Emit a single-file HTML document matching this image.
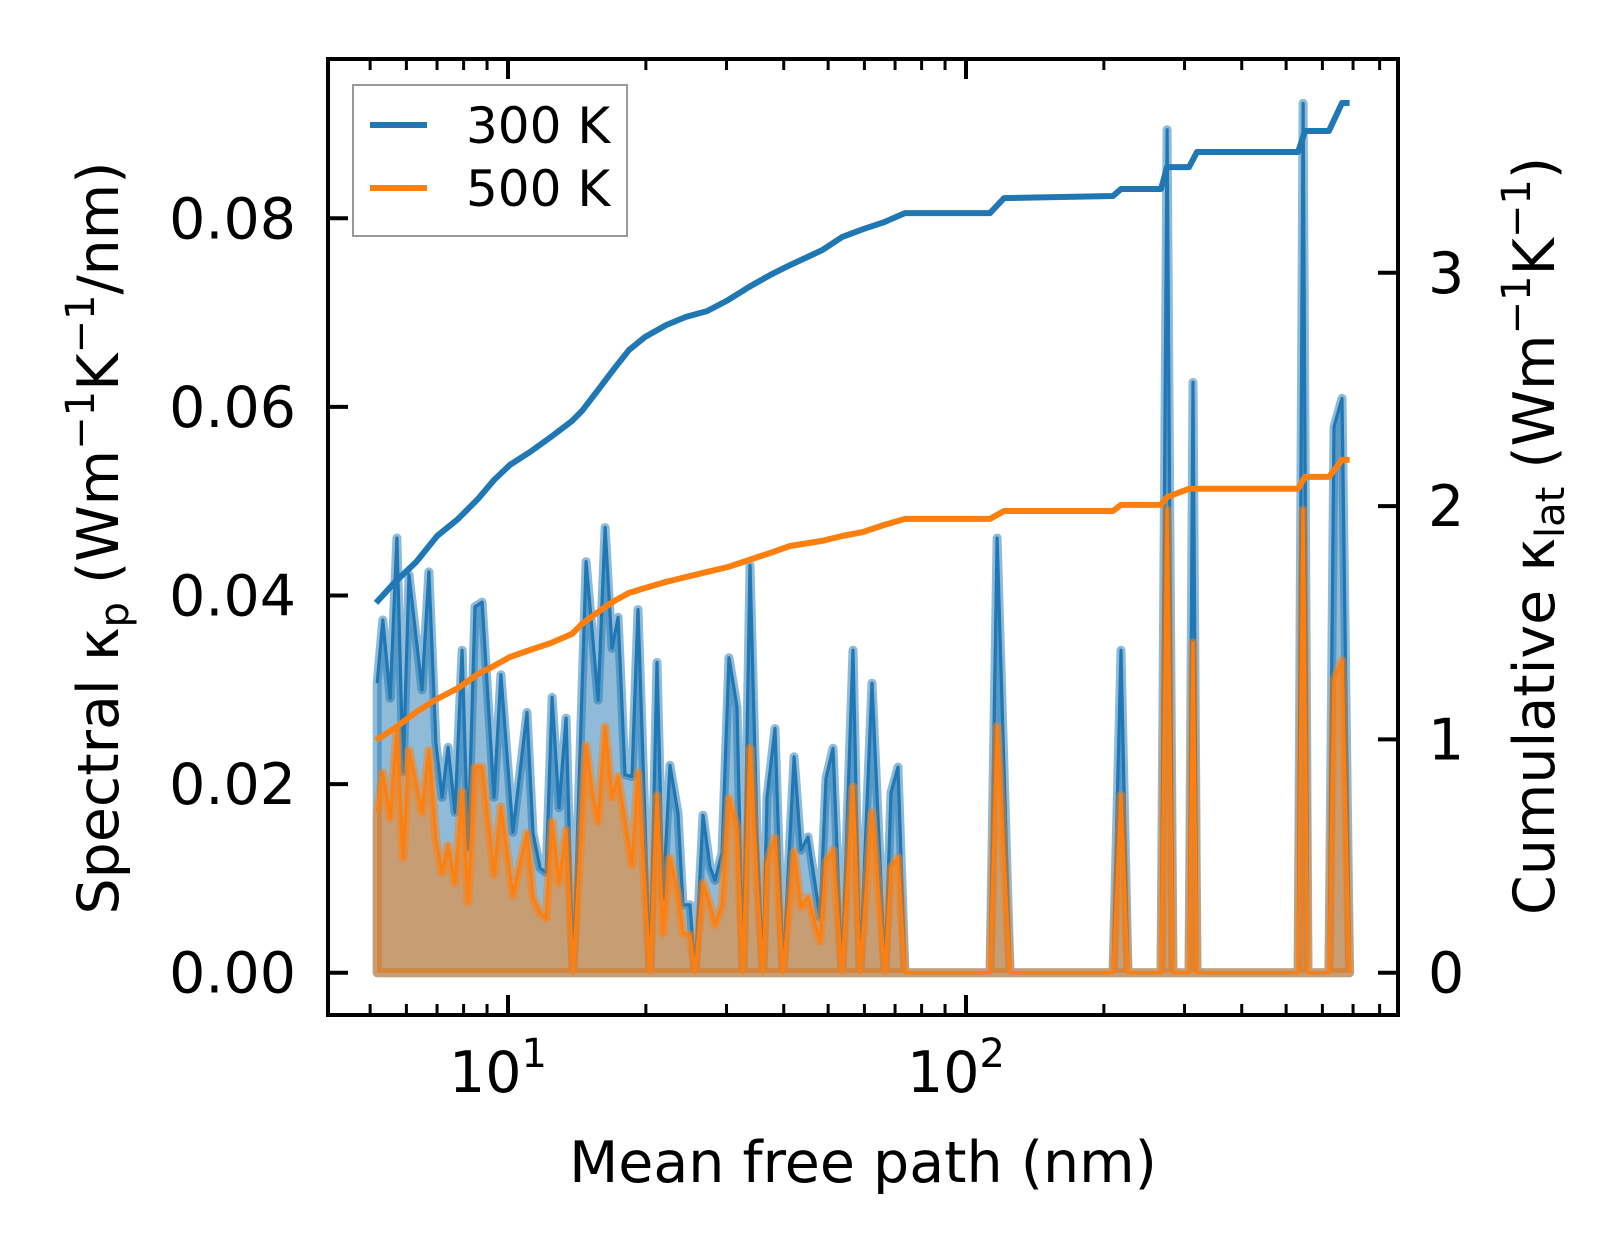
<!DOCTYPE html>
<html><head><meta charset="utf-8"><style>
html,body{margin:0;padding:0;background:#fff}
svg{display:block;font-family:"DejaVu Sans","Liberation Sans",sans-serif}
</style></head><body>
<svg id="chart" width="1623" height="1254" viewBox="0 0 1623 1254" xmlns="http://www.w3.org/2000/svg">
<rect width="1623" height="1254" fill="#fff"/>
<g id="plot"></g>
<g id="axes"></g>
</svg>
<script>
// Spectral data (shared mean free path grid, nm)
const specMfp = [5.18,5.33,5.53,5.72,5.90,6.08,6.49,6.72,6.96,7.18,7.40,7.66,7.94,8.18,8.47,8.78,9.32,9.65,10.25,11.00,11.34,11.75,12.11,12.48,12.92,13.39,13.87,14.81,15.26,15.73,16.29,16.87,17.39,18.01,18.65,19.22,20.42,21.15,21.80,22.58,23.51,24.11,24.97,25.61,26.66,27.61,28.31,29.32,30.37,31.62,32.59,33.76,34.97,36.04,36.77,38.28,39.85,42.13,43.62,45.19,47.99,49.46,51.24,53.62,56.67,58.70,62.34,66.54,68.58,71.04,73.58,112.8,116.9,124.8,209.4,218.0,225.8,266.6,274.8,283.1,306.9,313.1,319.5,530.9,544.4,558.2,620.0,636.0,662.0,688.0];
const spec300 = [0.0307,0.0374,0.0291,0.0461,0.0213,0.0422,0.0300,0.0425,0.0244,0.0186,0.0239,0.0170,0.0342,0.0132,0.0388,0.0393,0.0186,0.0316,0.0149,0.0276,0.0148,0.0111,0.0106,0.0292,0.0175,0.0270,0,0.0436,0.0363,0.0289,0.0472,0.0344,0.0377,0.0210,0.0208,0.0385,0,0.0329,0.0079,0.0220,0.0169,0.0072,0.0072,0,0.0167,0.0112,0.0098,0.0127,0.0334,0.0282,0,0.0432,0.0148,0,0.0186,0.0259,0,0.0229,0.0130,0.0144,0.0059,0.0206,0.0238,0,0.0342,0,0.0307,0,0.0191,0.0218,0,0,0.0461,0,0,0.0342,0,0,0.0894,0,0,0.0626,0,0,0.0922,0,0,0.0579,0.0609,0];
const spec500 = [0.0170,0.0212,0.0164,0.0257,0.0122,0.0236,0.0170,0.0236,0.0141,0.0106,0.0135,0.0095,0.0192,0.0075,0.0218,0.0218,0.0104,0.0176,0.0082,0.0148,0.0080,0.0063,0.0058,0.0160,0.0095,0.0151,0,0.0241,0.0192,0.0160,0.0261,0.0186,0.0208,0.0160,0.0114,0.0212,0,0.0188,0.0042,0.0122,0.0082,0.0042,0.0040,0,0.0095,0.0072,0.0051,0.0072,0.0185,0.0153,0,0.0238,0.0095,0,0.0116,0.0143,0,0.0128,0.0070,0.0080,0.0033,0.0117,0.0130,0,0.0197,0,0.0170,0,0.0111,0.0122,0,0,0.0261,0,0,0.0188,0,0,0.0491,0,0,0.0350,0,0,0.0491,0,0,0.0310,0.0331,0];
// Cumulative data
const cumMfp = [5.15,5.67,6.30,7.00,7.78,8.60,9.32,10.10,11.17,12.41,13.80,14.51,15.73,17.04,18.37,19.91,22.13,24.47,27.20,30.22,33.59,37.33,41.28,48.49,53.62,59.59,66.22,73.59,112.8,121.1,209.4,218.0,266.6,274.8,306.9,319.5,530.9,549.8,620.0,662.0,688.0];
const cum300 = [1.585,1.675,1.760,1.872,1.945,2.031,2.112,2.177,2.232,2.296,2.365,2.408,2.498,2.588,2.669,2.725,2.776,2.811,2.836,2.883,2.939,2.990,3.033,3.097,3.153,3.187,3.217,3.256,3.256,3.320,3.329,3.359,3.359,3.453,3.453,3.518,3.518,3.608,3.608,3.728,3.728];
const cum500 = [0.997,1.049,1.117,1.173,1.220,1.280,1.315,1.353,1.383,1.413,1.452,1.495,1.546,1.593,1.628,1.649,1.675,1.696,1.718,1.739,1.769,1.799,1.829,1.851,1.872,1.889,1.919,1.945,1.945,1.979,1.979,2.005,2.005,2.039,2.074,2.074,2.074,2.125,2.125,2.198,2.198];
const leftTicks = [0, 0.02, 0.04, 0.06, 0.08];
const leftTickLabels = ["0.00","0.02","0.04","0.06","0.08"];
const rightTicks = [0, 1, 2, 3];
const rightTickLabels = ["0","1","2","3"];
const xMajor = [10, 100];
const xMajorExp = ["1","2"];
const xMinor = [5,6,7,8,9,20,30,40,50,60,70,80,90,200,300,400,500,600,700,800];

const L=328, R=1398, T=59, B=1015;
const NS="http://www.w3.org/2000/svg";
function xs(v){return 508 + (Math.log10(v)-1)*458;}
function yl(v){return 972.7 - v/0.02*188.6;}
function yr(v){return 972.7 - v*233.3;}
function mk(tag, attrs, parent){const e=document.createElementNS(NS,tag);for(const k in attrs)e.setAttribute(k,attrs[k]);parent.appendChild(e);return e;}
const plot=document.getElementById('plot'), axes=document.getElementById('axes');

function drawSpec(vals, color, name){
  let pts=specMfp.map((m,i)=>xs(m).toFixed(1)+','+yl(vals[i]).toFixed(1));
  const first=xs(specMfp[0]).toFixed(1), last=xs(specMfp[specMfp.length-1]).toFixed(1), z=yl(0).toFixed(1);
  const poly=mk('polygon',{points:first+','+z+' '+pts.join(' ')+' '+last+','+z,fill:color,'fill-opacity':0.5,stroke:color,'stroke-opacity':0.5,'stroke-width':9,'stroke-linejoin':'round'},plot);
  
  
  const line=mk('polyline',{points:pts.join(' '),fill:'none',stroke:color,'stroke-width':3.2,'stroke-linejoin':'round'},plot);
  
  
}
drawSpec(spec300,'#1f77b4','spectral-300k');
drawSpec(spec500,'#ff7f0e','spectral-500k');

function drawCum(vals,color,name){
  const pts=cumMfp.map((m,i)=>xs(m).toFixed(1)+','+yr(vals[i]).toFixed(1)).join(' ');
  const pl=mk('polyline',{points:pts,fill:'none',stroke:color,'stroke-width':6,'stroke-linejoin':'round'},plot);
  
  
}
drawCum(cum300,'#1f77b4','cumulative-300k');
drawCum(cum500,'#ff7f0e','cumulative-500k');

// spines
const frame=mk('rect',{x:L,y:T,width:R-L,height:B-T,fill:'none',stroke:'#000','stroke-width':4},axes);



function tickLine(x1,y1,x2,y2,w,name){const t=mk('line',{x1,y1,x2,y2,stroke:'#000','stroke-width':w},axes);
  
  }
function txt(s,x,y,size,anchor,name){const t=mk('text',{x,y,'font-size':size,'text-anchor':anchor,fill:'#000'},axes);t.textContent=s;
  
  return t;}

leftTicks.forEach((v,i)=>{const y=yl(v);tickLine(L,y,L+20,y,4,'left-tick');
  txt(leftTickLabels[i],296,y+20,57,'end','left-tick-label');});
rightTicks.forEach((v,i)=>{const y=yr(v);tickLine(R-20,y,R,y,4,'right-tick');
  txt(rightTickLabels[i],1428,y+20,57,'start','right-tick-label');});
xMajor.forEach((v,i)=>{const x=xs(v);tickLine(x,B,x,B-20,4,'x-major-tick');tickLine(x,T,x,T+20,4,'x-major-tick-top');
  const t=txt('10',x-10,1092,57,'middle','x-tick-label');
  const s=document.createElementNS(NS,'tspan');s.setAttribute('font-size','40');s.setAttribute('dy','-25');s.textContent=xMajorExp[i];t.appendChild(s);});
xMinor.forEach(v=>{const x=xs(v);if(x<L||x>R)return;tickLine(x,B,x,B-11,3,'x-minor-tick');tickLine(x,T,x,T+11,3,'x-minor-tick-top');});
</script>
<svg style="position:absolute;left:0;top:0" width="1623" height="1254" viewBox="0 0 1623 1254" font-family="DejaVu Sans, Liberation Sans, sans-serif">
<text x="863" y="1182" font-size="57" text-anchor="middle">Mean free path (nm)</text>
<text transform="translate(118,538) rotate(-90)" font-size="57" text-anchor="middle">Spectral κ<tspan font-size="40" dy="10">p</tspan><tspan dy="-10"> (Wm</tspan><tspan font-size="40" dy="-24">−1</tspan><tspan dy="24">K</tspan><tspan font-size="40" dy="-24">−1</tspan><tspan dy="24">/nm)</tspan></text>
<text transform="translate(1554,536) rotate(-90)" font-size="57" text-anchor="middle">Cumulative κ<tspan font-size="40" dy="10">lat</tspan><tspan dy="-10"> (Wm</tspan><tspan font-size="40" dy="-24">−1</tspan><tspan dy="24">K</tspan><tspan font-size="40" dy="-24">−1</tspan><tspan dy="24">)</tspan></text>
<g>
<rect x="353" y="85" width="274" height="151" fill="#fff" fill-opacity="0.8" stroke="#999" stroke-width="2"/>
<line x1="370" y1="125" x2="427" y2="125" stroke="#1f77b4" stroke-width="6"/>
<text x="466" y="143" font-size="50">300 K</text>
<line x1="370" y1="188" x2="427" y2="188" stroke="#ff7f0e" stroke-width="6"/>
<text x="466" y="206" font-size="50">500 K</text>
</g>
</svg>
</body></html>
